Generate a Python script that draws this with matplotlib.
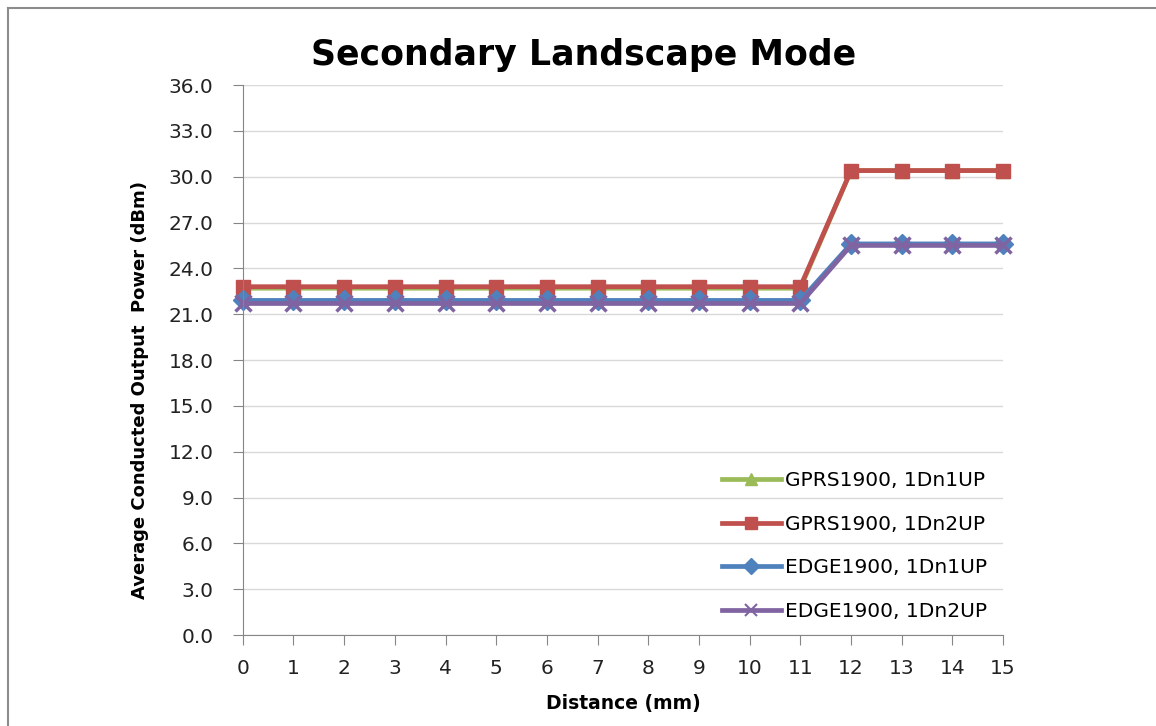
import matplotlib
matplotlib.use("Agg")
import matplotlib.pyplot as plt
from matplotlib.lines import Line2D

# distances (mm)
distance = list(range(16))

# average conducted output power (dBm)
gprs_1dn1up = [22.7] * 12 + [30.4] * 4
gprs_1dn2up = [22.8] * 12 + [30.4] * 4
edge_1dn1up = [21.9] * 12 + [25.6] * 4
edge_1dn2up = [21.7] * 12 + [25.5] * 4

series = [
    ("GPRS1900, 1Dn1UP", gprs_1dn1up, "#9BBB59", "^"),
    ("GPRS1900, 1Dn2UP", gprs_1dn2up, "#C0504D", "s"),
    ("EDGE1900, 1Dn1UP", edge_1dn1up, "#4F81BD", "D"),
    ("EDGE1900, 1Dn2UP", edge_1dn2up, "#8064A2", "x"),
]

plt.rcParams['font.family'] = ['DejaVu Sans']

fig = plt.figure(figsize=(11.56, 7.26), dpi=100)
ax = fig.add_axes([0.210, 0.1253, 0.6577, 0.7576])

for label, values, color, marker in series:
    ax.plot(distance, values, color=color, lw=3.4, marker=marker,
            ms=10 if marker != "x" else 12, mew=2.5 if marker == "x" else 1,
            mfc=color, mec=color, label=label, clip_on=False)

ax.set_xlim(0, 15)
ax.set_ylim(0, 36)
ax.set_xticks(distance)
ax.set_yticks([i * 3 for i in range(13)])
ax.set_yticklabels([f"{i * 3:.1f}" for i in range(13)])
ax.tick_params(axis='both', labelsize=14.5, color='#868686', length=7,
               labelcolor='#222222')
ax.tick_params(axis='x', pad=10)
ax.tick_params(axis='y', pad=14)
ax.grid(axis='y', color='#d9d9d9', lw=1)
ax.set_axisbelow(True)
for side in ('top', 'right'):
    ax.spines[side].set_visible(False)
for side in ('left', 'bottom'):
    ax.spines[side].set_color('#868686')

ax.set_xlabel("Distance (mm)", fontsize=13.5, fontweight='bold', labelpad=12)
ax.set_ylabel("Average Conducted Output  Power (dBm)", fontsize=13,
              fontweight='bold')
ax.yaxis.set_label_coords(-0.123, 0.445)
fig.text(0.505, 0.924, "Secondary Landscape Mode", fontsize=25,
         fontweight='bold', ha='center', va='center')

handles = []
for label, values, color, marker in series:
    handles.append(Line2D([], [], color=color, lw=3.4, marker=marker,
                          ms=8, mfc=color, mec=color,
                          mew=1.5 if marker == "x" else 1))
ax.legend(handles, [s[0] for s in series], loc='lower right',
          bbox_to_anchor=(0.997, 0.0), frameon=False, fontsize=14.5,
          handlelength=2.9, handletextpad=0.2, labelspacing=1.22,
          borderaxespad=0.3)

# outer chart border
fig.add_artist(Line2D([0.007, 0.007], [0.0, 0.989], transform=fig.transFigure,
                      color='#8c8c8c', lw=1.5))
fig.add_artist(Line2D([0.007, 1.0], [0.989, 0.989], transform=fig.transFigure,
                      color='#8c8c8c', lw=1.5))

fig.savefig("out.png", dpi=100)
